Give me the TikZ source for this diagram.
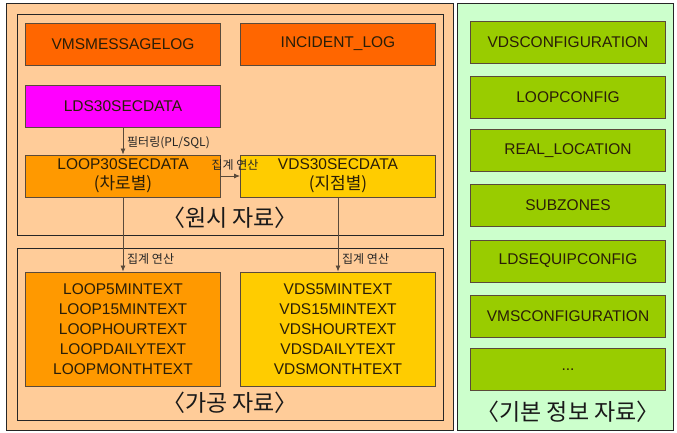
\documentclass[tikz,border=0pt]{standalone}
\usepackage{fontspec}
\setmainfont{Liberation Sans}
\newfontfamily\kr{Noto Sans CJK KR}
\usetikzlibrary{arrows.meta}
\definecolor{peach}{HTML}{FFCC99}
\definecolor{redor}{HTML}{FF6600}
\definecolor{magent}{HTML}{FF00FF}
\definecolor{loopor}{HTML}{FF9900}
\definecolor{vdsyel}{HTML}{FFCC00}
\definecolor{grbox}{HTML}{99CC00}
\definecolor{grpanel}{HTML}{CCFFCC}
\definecolor{edgec}{HTML}{5A4A3A}
\definecolor{txtc}{HTML}{2A1E08}
\tikzset{
  panel/.style={draw=black!85, line width=0.9pt},
  tbl/.style={draw=edgec, line width=0.9pt, minimum width=195pt, minimum height=42pt,
    inner sep=0pt, align=center, text=txtc, font=\fontsize{15.5}{20}\selectfont},
  conn/.style={draw=edgec, line width=0.8pt, -{Latex[length=6pt,width=5pt]}},
  small/.style={font=\kr\fontsize{12}{13}\selectfont, text=black!85, inner sep=1pt},
  title/.style={font=\kr\fontsize{23}{24}\selectfont, text=black!90, inner sep=0pt}
}
\begin{document}
\begin{tikzpicture}[x=1pt,y=-1pt]
\useasboundingbox (0,0) rectangle (677,432);
\fill[white] (0,0) rectangle (677,432);
% panels
\draw[panel, fill=peach] (6,3) rectangle (453,430);
\draw[panel, fill=peach] (17,14) rectangle (443,235);
\draw[panel, fill=peach] (17,248) rectangle (443,420);
\draw[panel, fill=grpanel] (457,3) rectangle (673,430);
% raw data boxes
\node[tbl, fill=redor] (vmsmsg) at (123,44) {VMSMESSAGELOG};
\node[tbl, fill=redor] (incident) at (338,44) {INCIDENT\_LOG};
\node[tbl, fill=magent] (lds) at (123,106) {LDS30SECDATA};
\node[tbl, fill=loopor] (loop30) at (123,176) {LOOP30SECDATA\\{\kr\fontsize{17}{20}\selectfont (차로별)}};
\node[tbl, fill=vdsyel] (vds30) at (338,176) {VDS30SECDATA\\{\kr\fontsize{17}{20}\selectfont (지점별)}};
\node[title] (rawlbl) at (230,218) {〈원시 자료〉};
% processed boxes
\node[tbl, fill=loopor, minimum height=114pt] (loopext) at (123,329)
  {LOOP5MINTEXT\\LOOP15MINTEXT\\LOOPHOURTEXT\\LOOPDAILYTEXT\\LOOPMONTHTEXT};
\node[tbl, fill=vdsyel, minimum height=114pt] (vdsext) at (338,329)
  {VDS5MINTEXT\\VDS15MINTEXT\\VDSHOURTEXT\\VDSDAILYTEXT\\VDSMONTHTEXT};
\node[title] (proclbl) at (230,403) {〈가공 자료〉};
% connectors
\draw[conn] (lds) -- (loop30);
\draw[conn] (loop30) -- (vds30);
\draw[conn] (loop30) -- (loopext);
\draw[conn] (vds30) -- (vdsext);
\node[small, anchor=west] (lfilter) at (126,143) {필터링(PL/SQL)};
\node[small] (lagg1) at (235,165) {집계 연산};
\node[small, anchor=west] (lagg2) at (126,259) {집계 연산};
\node[small, anchor=west] (lagg3) at (341,259) {집계 연산};
% base info
\node[tbl, fill=grbox] (g1) at (568,42) {VDSCONFIGURATION};
\node[tbl, fill=grbox] (g2) at (568,97) {LOOPCONFIG};
\node[tbl, fill=grbox] (g3) at (568,150.5) {REAL\_LOCATION};
\node[tbl, fill=grbox] (g4) at (568,205.5) {SUBZONES};
\node[tbl, fill=grbox] (g5) at (568,261) {LDSEQUIPCONFIG};
\node[tbl, fill=grbox] (g6) at (568,316.5) {VMSCONFIGURATION};
\node[tbl, fill=grbox] (g7) at (568,369.5) {...};
\node[title] (baselbl) at (568,412) {〈기본 정보 자료〉};
\end{tikzpicture}
\end{document}
